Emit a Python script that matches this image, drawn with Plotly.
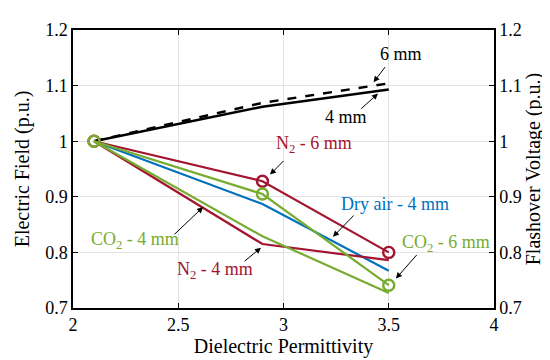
import plotly.graph_objects as go

# ---- data ----
permittivity = [2.1, 2.9, 3.5]
fov_4mm = [1.0, 1.062, 1.093]
fov_6mm = [1.0, 1.069, 1.104]
n2_6mm = [1.0, 0.928, 0.800]
n2_4mm = [1.0, 0.815, 0.786]
dryair_4mm = [1.0, 0.887, 0.767]
co2_4mm = [1.0, 0.829, 0.727]
co2_6mm = [1.0, 0.905, 0.741]

x_ticks = [2, 2.5, 3, 3.5, 4]
x_tick_labels = ["2", "2.5", "3", "3.5", "4"]
y_ticks = [0.7, 0.8, 0.9, 1.0, 1.1, 1.2]
y_tick_labels = ["0.7", "0.8", "0.9", "1", "1.1", "1.2"]

RED = "#A2142F"
BLUE = "#0072BD"
GREEN = "#77AC30"
FONT = "Liberation Serif"

fig = go.Figure()
fig.add_trace(go.Scatter(x=permittivity, y=fov_4mm, mode="lines",
                         line=dict(color="black", width=2.4)))
fig.add_trace(go.Scatter(x=permittivity, y=fov_6mm, mode="lines",
                         line=dict(color="black", width=2.4, dash="dash")))
fig.add_trace(go.Scatter(x=permittivity, y=dryair_4mm, mode="lines",
                         line=dict(color=BLUE, width=2.2)))
fig.add_trace(go.Scatter(x=permittivity, y=n2_4mm, mode="lines",
                         line=dict(color=RED, width=2.2)))
fig.add_trace(go.Scatter(x=permittivity, y=n2_6mm, mode="lines+markers",
                         line=dict(color=RED, width=2.2),
                         marker=dict(symbol="circle-open", size=11, color=RED,
                                     line=dict(width=2.4, color=RED))))
fig.add_trace(go.Scatter(x=permittivity, y=co2_4mm, mode="lines",
                         line=dict(color=GREEN, width=2.2)))
fig.add_trace(go.Scatter(x=permittivity, y=co2_6mm, mode="lines+markers",
                         line=dict(color=GREEN, width=2.2),
                         marker=dict(symbol="circle-open", size=11, color=GREEN,
                                     line=dict(width=2.4, color=GREEN))))
# invisible trace to attach the right axis
fig.add_trace(go.Scatter(x=permittivity, y=fov_4mm, yaxis="y2", mode="lines",
                         line=dict(width=0), opacity=0, hoverinfo="skip"))

# ---- annotations: text labels ----
labels = [
    ("6 mm", 3.558, 1.157, "black"),
    ("4 mm", 3.297, 1.0434, "black"),
    ("N<sub>2</sub> - 6 mm", 3.145, 0.9936, RED),
    ("Dry air - 4 mm", 3.530, 0.8868, BLUE),
    ("CO<sub>2</sub> - 6 mm", 3.772, 0.8157, GREEN),
    ("CO<sub>2</sub> - 4 mm", 2.295, 0.821, GREEN),
    ("N<sub>2</sub> - 4 mm", 2.675, 0.7676, RED),
]
for txt, lx, ly, col in labels:
    fig.add_annotation(x=lx, y=ly, text=txt, showarrow=False,
                       font=dict(family=FONT, size=18, color=col),
                       xanchor="center", yanchor="middle")

# ---- annotations: arrows (tail -> head) ----
arrows = [
    (3.488, 1.136, 3.428, 1.106),
    (3.362, 1.056, 3.449, 1.0856),
    (3.007, 0.967, 2.936, 0.940),
    (3.340, 0.869, 3.235, 0.828),
    (3.639, 0.798, 3.534, 0.753),
    (2.475, 0.830, 2.618, 0.8815),
    (2.808, 0.782, 2.893, 0.8085),
]
for tx, ty, hx, hy in arrows:
    fig.add_annotation(x=hx, y=hy, ax=tx, ay=ty, axref="x", ayref="y",
                       text="", showarrow=True, arrowhead=2, arrowsize=1.2,
                       arrowwidth=1, arrowcolor="black", standoff=0)

axis_common = dict(showline=True, linecolor="black", linewidth=1.5,
                   ticks="inside", ticklen=5, tickcolor="black",
                   tickfont=dict(family=FONT, size=18, color="black"),
                   zeroline=False)

fig.update_layout(
    width=550, height=360,
    margin=dict(l=65, r=64, t=19, b=60),
    paper_bgcolor="white", plot_bgcolor="white",
    showlegend=False,
    xaxis=dict(range=[2, 4], tickvals=x_ticks, ticktext=x_tick_labels,
               mirror="ticks", showgrid=True, gridcolor="#e3e3e3", gridwidth=1,
               title=dict(text="Dielectric Permittivity",
                          font=dict(family=FONT, size=20, color="black"),
                          standoff=3),
               **axis_common),
    yaxis=dict(range=[0.7, 1.2], tickvals=y_ticks, ticktext=y_tick_labels,
               showgrid=True, gridcolor="#e3e3e3", gridwidth=1,
               title=dict(text="Electric Field (p.u.)",
                          font=dict(family=FONT, size=20, color="black"),
                          standoff=10),
               **axis_common),
    yaxis2=dict(range=[0.7, 1.2], tickvals=y_ticks, ticktext=y_tick_labels,
                overlaying="y", side="right", showgrid=False,
                title=dict(text="Flashover Voltage (p.u.)",
                           font=dict(family=FONT, size=20, color="black"),
                           standoff=2),
                **axis_common),
)

fig.write_html("out.html")
